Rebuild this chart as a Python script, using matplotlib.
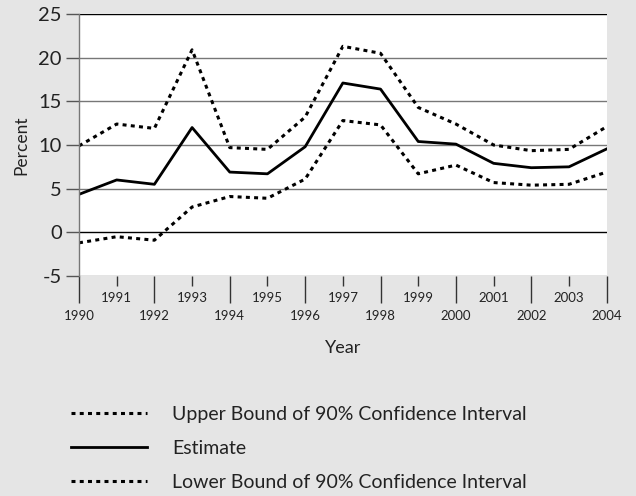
import matplotlib
matplotlib.use("Agg")
import matplotlib.pyplot as plt
from matplotlib.ticker import FixedLocator, FixedFormatter

plt.rcParams['font.family'] = ['Lato', 'DejaVu Sans']

years = list(range(1990, 2005))
estimate = [4.35, 6.0, 5.5, 12.0, 6.9, 6.7, 9.8, 17.1, 16.4, 10.4, 10.1, 7.9, 7.4, 7.5, 9.55]
upper = [9.9, 12.4, 11.9, 20.9, 9.7, 9.5, 13.2, 21.3, 20.5, 14.3, 12.4, 10.0, 9.35, 9.5, 12.1]
lower = [-1.2, -0.5, -0.9, 2.9, 4.1, 3.9, 6.1, 12.8, 12.3, 6.7, 7.7, 5.7, 5.4, 5.5, 6.9]
yticks = [-5, 0, 5, 10, 15, 20, 25]
labels = ["Upper Bound of 90% Confidence Interval", "Estimate",
          "Lower Bound of 90% Confidence Interval"]

W, H = 636, 496
bg = '#e5e5e5'
fig = plt.figure(figsize=(W / 100, H / 100), dpi=100, facecolor=bg)
ax = fig.add_axes([79 / W, (H - 276) / H, (606.7 - 79) / W, (276 - 14) / H])
ax.set_facecolor('white')
ax.set_xlim(1990, 2004)
ax.set_ylim(-5, 25)

dot = (0, (1.3, 1.4))
l1, = ax.plot(years, upper, color='black', lw=2.2, linestyle=dot, label=labels[0])
l2, = ax.plot(years, estimate, color='black', lw=2.0, label=labels[1])
l3, = ax.plot(years, lower, color='black', lw=2.2, linestyle=dot, label=labels[2])

for v in yticks:
    c = 'black' if v in (0, 25) else '#777777'
    ax.axhline(v, color=c, lw=1.0, zorder=0.5)

for s in ['top', 'right', 'bottom']:
    ax.spines[s].set_visible(False)
ax.spines['left'].set_color('#777777')
ax.spines['left'].set_linewidth(1.0)

ax.set_yticks(yticks)
ax.set_yticklabels([str(v) for v in yticks], fontsize=14.5, color='#222222')
ax.tick_params(axis='y', length=9.5, width=1.0, color='#555555', pad=3)
for t, v in zip(ax.yaxis.get_major_ticks(), yticks):
    if v in (0, 25):
        t.tick1line.set_color('black')

even = [y for y in years if y % 2 == 0]
odd = [y for y in years if y % 2 == 1]
ax.xaxis.set_major_locator(FixedLocator(even))
ax.xaxis.set_major_formatter(FixedFormatter([str(y) for y in even]))
ax.xaxis.set_minor_locator(FixedLocator(odd))
ax.xaxis.set_minor_formatter(FixedFormatter([str(y) for y in odd]))
ax.tick_params(axis='x', which='major', length=19.5, width=1.0, color='#333333',
               labelsize=9.5, pad=5, labelcolor='#222222')
ax.tick_params(axis='x', which='minor', length=7.5, width=1.0, color='#333333',
               labelsize=9.5, pad=4, labelcolor='#222222')

ax.set_ylabel('Percent', fontsize=12.5, labelpad=6, color='#222222')
ax.set_xlabel('Year', fontsize=13, labelpad=13, color='#222222')

leg = fig.legend(handles=[l1, l2, l3], loc='upper left', bbox_to_anchor=(71 / W, (H - 406) / H),
                 frameon=False, fontsize=14, handlelength=3.9, handletextpad=1.3,
                 labelspacing=0.88, borderpad=0, borderaxespad=0)
for t in leg.get_texts():
    t.set_color('#222222')

fig.savefig('out.png', dpi=100, facecolor=bg)
